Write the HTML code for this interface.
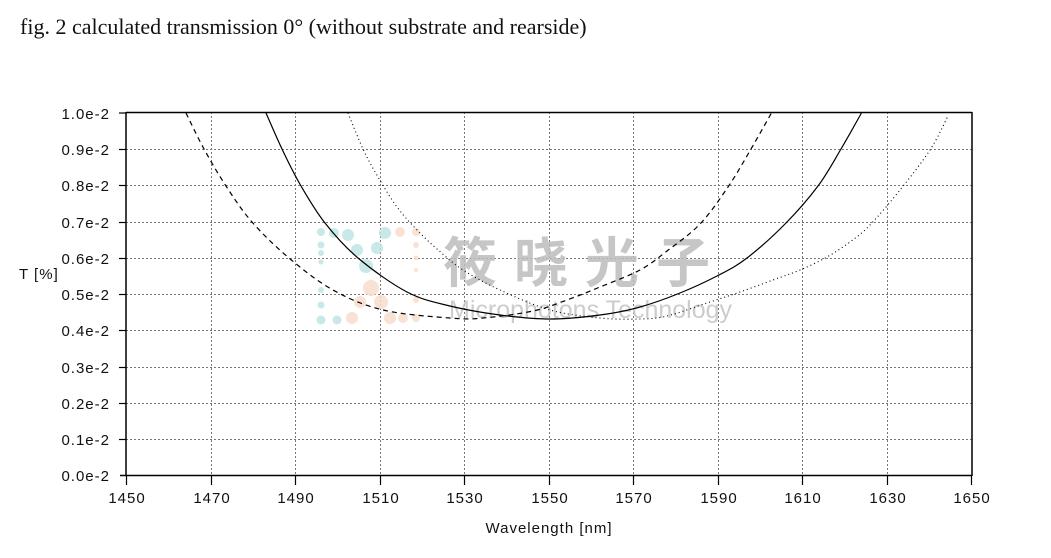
<!DOCTYPE html>
<html><head><meta charset="utf-8"><style>
body{margin:0;background:#fff;width:1051px;height:553px;overflow:hidden}
</style></head><body>
<svg width="1051" height="553" xmlns="http://www.w3.org/2000/svg" font-family="Liberation Sans, sans-serif">
<text x="20" y="34" font-family="Liberation Serif, serif" font-size="22" fill="#111">fig. 2 calculated transmission 0° (without substrate and rearside)</text>
<g stroke="#777" stroke-width="1" stroke-dasharray="2,2">
<line x1="126" y1="149.5" x2="972" y2="149.5"/><line x1="126" y1="185.5" x2="972" y2="185.5"/>
<line x1="126" y1="222.5" x2="972" y2="222.5"/><line x1="126" y1="258.5" x2="972" y2="258.5"/>
<line x1="126" y1="294.5" x2="972" y2="294.5"/><line x1="126" y1="330.5" x2="972" y2="330.5"/>
<line x1="126" y1="367.5" x2="972" y2="367.5"/><line x1="126" y1="403.5" x2="972" y2="403.5"/>
<line x1="126" y1="439.5" x2="972" y2="439.5"/>
<line x1="211.5" y1="112" x2="211.5" y2="475"/><line x1="295.5" y1="112" x2="295.5" y2="475"/>
<line x1="380.5" y1="112" x2="380.5" y2="475"/><line x1="464.5" y1="112" x2="464.5" y2="475"/>
<line x1="549.5" y1="112" x2="549.5" y2="475"/><line x1="633.5" y1="112" x2="633.5" y2="475"/>
<line x1="718.5" y1="112" x2="718.5" y2="475"/><line x1="802.5" y1="112" x2="802.5" y2="475"/>
<line x1="887.5" y1="112" x2="887.5" y2="475"/>
</g>
<g opacity="0.85">
<g fill="#bfe6e4">
<circle cx="321" cy="232" r="4"/><circle cx="334" cy="233" r="5"/><circle cx="348" cy="235" r="6"/><circle cx="385" cy="233" r="6"/>
<circle cx="321" cy="245" r="3.5"/><circle cx="321" cy="253" r="3"/><circle cx="321" cy="262" r="2.5"/>
<circle cx="357" cy="250" r="6"/><circle cx="377" cy="248" r="6"/><circle cx="366" cy="266" r="7"/>
<circle cx="321" cy="290" r="3"/><circle cx="321" cy="305" r="3.5"/><circle cx="321" cy="320" r="4.5"/><circle cx="337" cy="320" r="4.5"/>
</g>
<g fill="#f8dccd">
<circle cx="400" cy="232" r="5"/><circle cx="416" cy="232" r="4"/><circle cx="416" cy="245" r="3"/><circle cx="416" cy="258" r="2.5"/><circle cx="416" cy="270" r="2"/>
<circle cx="371" cy="288" r="8"/><circle cx="360" cy="302" r="6"/><circle cx="381" cy="302" r="7"/>
<circle cx="352" cy="318" r="6"/><circle cx="390" cy="318" r="6"/><circle cx="403" cy="318" r="5"/><circle cx="416" cy="318" r="4"/><circle cx="416" cy="300" r="3"/>
</g>
<text x="443" y="282" font-family="Noto Sans CJK SC, sans-serif" font-weight="bold" font-size="54" fill="#bdbdbd" letter-spacing="17">筱晓光子</text>
<text x="449" y="318" font-size="25" fill="#c4c4c4">Microphotons Technology</text>
</g>
<g fill="none" stroke="#000">
<path id="s" stroke-width="1.2"/>
<path id="d" stroke-width="1.2" stroke-dasharray="5,4"/>
<path id="o" stroke-width="1.1" stroke-dasharray="1,3"/>
</g>
<g stroke="#000" stroke-width="1.5">
<line x1="126" y1="112" x2="126" y2="476"/>
<line x1="120" y1="475.5" x2="972" y2="475.5"/>
<line x1="126" y1="112.5" x2="972" y2="112.5"/>
<line x1="972" y1="112" x2="972" y2="476"/>
</g>
<g stroke="#000" stroke-width="1.2">
<line x1="119" y1="113" x2="126" y2="113"/><line x1="119" y1="149.5" x2="126" y2="149.5"/><line x1="119" y1="185.5" x2="126" y2="185.5"/>
<line x1="119" y1="222.5" x2="126" y2="222.5"/><line x1="119" y1="258.5" x2="126" y2="258.5"/><line x1="119" y1="294.5" x2="126" y2="294.5"/>
<line x1="119" y1="330.5" x2="126" y2="330.5"/><line x1="119" y1="367.5" x2="126" y2="367.5"/><line x1="119" y1="403.5" x2="126" y2="403.5"/>
<line x1="119" y1="439.5" x2="126" y2="439.5"/>
<line x1="126.5" y1="475" x2="126.5" y2="485"/><line x1="211.5" y1="475" x2="211.5" y2="485"/><line x1="295.5" y1="475" x2="295.5" y2="485"/>
<line x1="380.5" y1="475" x2="380.5" y2="485"/><line x1="464.5" y1="475" x2="464.5" y2="485"/><line x1="549.5" y1="475" x2="549.5" y2="485"/>
<line x1="633.5" y1="475" x2="633.5" y2="485"/><line x1="718.5" y1="475" x2="718.5" y2="485"/><line x1="802.5" y1="475" x2="802.5" y2="485"/>
<line x1="887.5" y1="475" x2="887.5" y2="485"/><line x1="971.5" y1="475" x2="971.5" y2="485"/>
</g>
<g font-size="15" fill="#111" text-anchor="end" letter-spacing="1">
<text x="110" y="119">1.0e-2</text><text x="110" y="155">0.9e-2</text><text x="110" y="191">0.8e-2</text>
<text x="110" y="228">0.7e-2</text><text x="110" y="264">0.6e-2</text><text x="110" y="300">0.5e-2</text>
<text x="110" y="336">0.4e-2</text><text x="110" y="373">0.3e-2</text><text x="110" y="409">0.2e-2</text>
<text x="110" y="445">0.1e-2</text><text x="110" y="481">0.0e-2</text>
</g>
<text x="19" y="279" font-size="15" fill="#111" letter-spacing="1">T [%]</text>
<g font-size="15" fill="#111" text-anchor="middle" letter-spacing="1">
<text x="127" y="503">1450</text><text x="212" y="503">1470</text><text x="296" y="503">1490</text>
<text x="381" y="503">1510</text><text x="465" y="503">1530</text><text x="550" y="503">1550</text>
<text x="634" y="503">1570</text><text x="719" y="503">1590</text><text x="803" y="503">1610</text>
<text x="888" y="503">1630</text><text x="972" y="503">1650</text>
</g>
<text x="549" y="533" font-size="15" fill="#111" text-anchor="middle" letter-spacing="1">Wavelength [nm]</text>
</svg>
<script>
function cr(p){var d="M"+p[0][0]+","+p[0][1];for(var i=0;i<p.length-1;i++){var a=p[i-1]||p[i],b=p[i],c=p[i+1],e=p[i+2]||c;
d+=" C"+(b[0]+(c[0]-a[0])/6).toFixed(1)+","+(b[1]+(c[1]-a[1])/6).toFixed(1)+" "+(c[0]-(e[0]-b[0])/6).toFixed(1)+","+(c[1]-(e[1]-b[1])/6).toFixed(1)+" "+c[0]+","+c[1];}return d;}
var S=[[266,113],[282,149],[301,186],[325,223],[358,258],[407,292],[450,306],[500,315],[550,319],[600,315],[640,307],[680,293],[717,276],[747,258],[786,223],[818,186],[841,149],[862,112]];
var D=[[186,113],[204,149],[226,186],[252,222],[289,258],[333,290],[383,310],[450,318],[483,318],[533,311],[567,300],[600,287],[640,270],[667,251],[700,224],[728,187],[751,149],[772,112]];
var O=[[348,113],[363,149],[378,177],[397,207],[417,230],[437,249],[463,270],[500,290],[550,310],[600,318],[640,319],[667,316],[707,303],[740,292],[773,280],[800,270],[827,257],[850,242],[870,225],[900,190],[930,150],[948,116]];
document.getElementById("s").setAttribute("d",cr(S));
document.getElementById("d").setAttribute("d",cr(D));
document.getElementById("o").setAttribute("d",cr(O));
</script>
</body></html>
